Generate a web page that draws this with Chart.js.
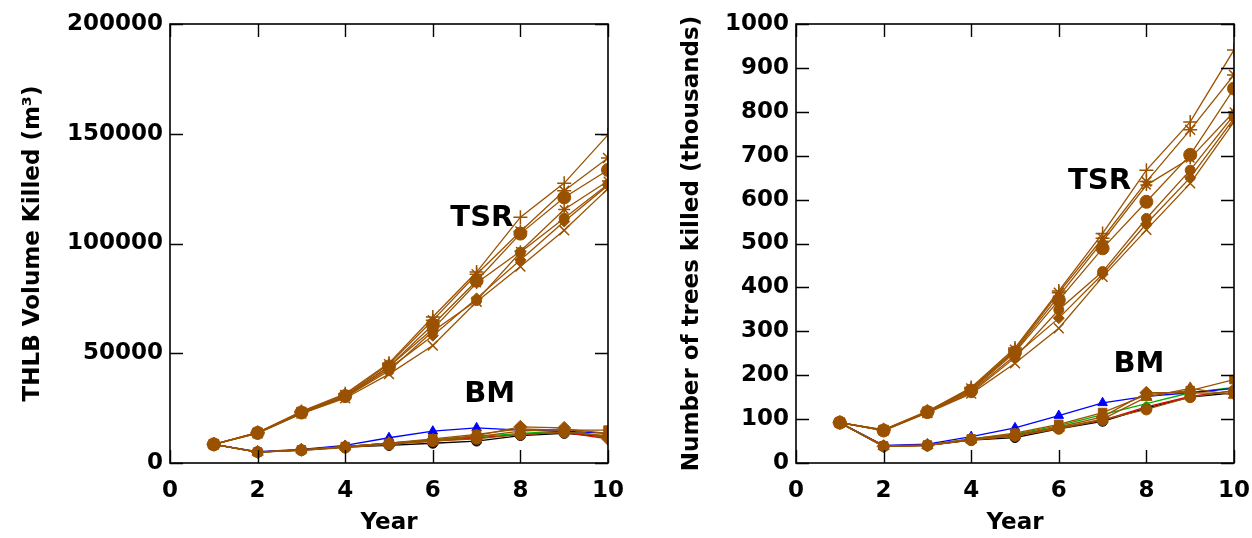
<!DOCTYPE html>
<html>
<head>
<meta charset="utf-8">
<script src="https://cdn.jsdelivr.net/npm/chart.js@4/dist/chart.umd.min.js"></script>
<style>
  body { margin: 0; background: #fff; }
  .wrap { position: absolute; top: 0; width: 626px; height: 538px; }
  #left { left: 0; }
  #right { left: 626px; }
</style>
</head>
<body>
<div class="wrap" id="left"><canvas id="volChart"></canvas></div>
<div class="wrap" id="right"><canvas id="treeChart"></canvas></div>
<script>
// years on the x axis
const years = [1, 2, 3, 4, 5, 6, 7, 8, 9, 10];
const xTicks = [0, 2, 4, 6, 8, 10];
const volTicks = [0, 50000, 100000, 150000, 200000];
const treeTicks = [0, 100, 200, 300, 400, 500, 600, 700, 800, 900, 1000];

// THLB volume killed (m3) - TSR runs
const volTsrPlus   = [8500, 13900, 23500, 31500, 45500, 66500, 87000, 112000, 127500, 149500];
const volTsrStar   = [8500, 13800, 23200, 31000, 45000, 65000, 86000, 105500, 124000, 139000];
const volTsrPent   = [8500, 13700, 23000, 30500, 44000, 63000, 83000, 104500, 121000, 133500];
const volTsrBurst  = [8500, 13800, 23000, 30500, 44000, 61000, 82000, 96500, 115500, 128500];
const volTsrDot    = [8500, 13600, 22500, 30000, 42000, 60000, 74000, 96000, 111500, 127000];
const volTsrX      = [8500, 13500, 22500, 29500, 40500, 53500, 73500, 89500, 106000, 125000];
const volTsrDiam   = [8500, 13700, 22800, 30000, 43000, 58000, 75000, 92500, 110000, 126500];
// THLB volume killed (m3) - BM runs
const volBmBlack   = [8500, 5000, 5800, 7200, 8000, 9000, 10000, 12500, 13500, 12000];
const volBmRed     = [8500, 5000, 6000, 7500, 8800, 10000, 11500, 13000, 14000, 11000];
const volBmGreen   = [8500, 5000, 6000, 7500, 9000, 10500, 12000, 13500, 14500, 12000];
const volBmBlue    = [8500, 5200, 6200, 8000, 11500, 14500, 16000, 15000, 14500, 13500];
const volBmSquare  = [8500, 5000, 6000, 7500, 9000, 11000, 13000, 15500, 15000, 15000];
const volBmDiam    = [8500, 5000, 6000, 7500, 9000, 10500, 12500, 16500, 16000, 11000];
const volBmTri     = [8500, 5000, 6000, 7500, 9000, 10000, 12000, 14500, 15500, 13500];
const volBmDot     = [8500, 5000, 5800, 7000, 8500, 10000, 11000, 13000, 14000, 12500];

// number of trees killed (thousands) - TSR runs
const treeTsrPlus  = [92, 76, 118, 172, 262, 392, 523, 667, 777, 941];
const treeTsrStar  = [92, 75, 117, 170, 258, 388, 512, 641, 759, 884];
const treeTsrPent  = [92, 74, 116, 165, 252, 371, 489, 595, 702, 853];
const treeTsrBurst = [92, 75, 117, 168, 255, 380, 505, 633, 694, 800];
const treeTsrDot   = [92, 74, 115, 160, 240, 349, 436, 557, 667, 793];
const treeTsrX     = [92, 74, 114, 158, 227, 307, 424, 531, 637, 777];
const treeTsrDiam  = [92, 75, 116, 163, 245, 330, 430, 545, 650, 785];
// number of trees killed (thousands) - BM runs
const treeBmBlack  = [92, 38, 40, 52, 58, 78, 95, 125, 150, 160];
const treeBmRed    = [92, 38, 40, 53, 62, 80, 97, 128, 152, 165];
const treeBmGreen  = [92, 39, 41, 55, 66, 85, 110, 135, 160, 172];
const treeBmBlue   = [92, 40, 43, 60, 80, 108, 137, 152, 160, 170];
const treeBmSquare = [92, 39, 41, 55, 68, 88, 115, 155, 165, 190];
const treeBmDiam   = [92, 38, 40, 54, 64, 82, 105, 160, 160, 158];
const treeBmTri    = [92, 38, 40, 53, 63, 80, 100, 150, 170, 155];
const treeBmDot    = [92, 38, 40, 52, 62, 78, 98, 122, 150, 165];

const BROWN = '#9a5200';
const FONT = '"DejaVu Sans", sans-serif';

const toXY = vals => vals.map((v, i) => ({ x: years[i], y: v }));

const ds = (vals, color, style, radius) => ({
    data: toXY(vals),
    borderColor: color,
    backgroundColor: color,
    borderWidth: 1.3,
    pointStyle: style,
    pointRadius: radius,
    pointBorderWidth: (style === 'cross' || style === 'crossRot' || style === 'star') ? 1.5 : 1,
    tension: 0
});

const buildSets = (s) => [
    ds(s.tsrPlus, BROWN, 'cross', 7),
    ds(s.tsrStar, BROWN, 'star', 7),
    ds(s.tsrPent, BROWN, 'circle', 6.5),
    ds(s.tsrBurst, BROWN, 'star', 6),
    ds(s.tsrDot, BROWN, 'circle', 5),
    ds(s.tsrX, BROWN, 'crossRot', 7),
    ds(s.tsrDiam, BROWN, 'rectRot', 5.5),
    ds(s.bmSquare, BROWN, 'rect', 6),
    ds(s.bmDiam, BROWN, 'rectRot', 6.5),
    ds(s.bmTri, BROWN, 'triangle', 6.5),
    ds(s.bmDot, BROWN, 'circle', 5.5),
    ds(s.bmBlue, '#0000ff', 'triangle', 5.5),
    ds(s.bmGreen, '#00b000', 'circle', 2),
    ds(s.bmRed, '#e00000', 'circle', 2),
    ds(s.bmBlack, '#000000', 'circle', 5)
];

// frame with inward ticks on all four sides, plus the TSR / BM labels
const framePlugin = {
    id: 'frame',
    afterDatasetsDraw(chart, args, opts) {
        const { ctx, chartArea: a, scales: { x, y } } = chart;
        ctx.save();
        ctx.strokeStyle = '#000';
        ctx.lineWidth = 1.6;
        ctx.strokeRect(a.left, a.top, a.right - a.left, a.bottom - a.top);
        ctx.lineWidth = 1.4;
        ctx.beginPath();
        opts.yTicks.forEach(v => {
            const py = Math.round(y.getPixelForValue(v)) + 0.5;
            ctx.moveTo(a.left, py); ctx.lineTo(a.left + 13, py);
            ctx.moveTo(a.right, py); ctx.lineTo(a.right - 13, py);
        });
        xTicks.forEach(v => {
            const px = Math.round(x.getPixelForValue(v)) + 0.5;
            ctx.moveTo(px, a.bottom); ctx.lineTo(px, a.bottom - 13);
            ctx.moveTo(px, a.top); ctx.lineTo(px, a.top + 13);
        });
        ctx.stroke();
        ctx.fillStyle = '#000';
        ctx.font = 'bold 29px ' + FONT;
        ctx.textAlign = 'center';
        ctx.textBaseline = 'middle';
        opts.labels.forEach(l => {
            ctx.fillText(l.text, x.getPixelForValue(l.x), y.getPixelForValue(l.y));
        });
        ctx.restore();
    }
};

const makeChart = (id, sets, yMax, yStep, yTicks, yTitle, titlePad, labels) => {
    const ctx = document.getElementById(id).getContext('2d');
    return new Chart(ctx, {
        type: 'line',
        data: { datasets: sets },
        plugins: [framePlugin],
        options: {
            responsive: true,
            maintainAspectRatio: false,
            animation: false,
            layout: { padding: { left: 0, right: 18, top: 24, bottom: 0 } },
            plugins: {
                legend: { display: false },
                tooltip: { enabled: false },
                frame: { yTicks: yTicks, labels: labels }
            },
            scales: {
                x: {
                    type: 'linear',
                    min: 0, max: 10,
                    grid: { display: false, drawTicks: false },
                    border: { display: false },
                    ticks: {
                        stepSize: 2, padding: 14, color: '#000', maxRotation: 0,
                        callback: v => String(v),
                        font: { family: FONT, size: 23, weight: 'bold' }
                    },
                    title: {
                        display: true, text: 'Year', color: '#000', padding: { top: 0, bottom: 1 },
                        font: { family: FONT, size: 23, weight: 'bold' }
                    },
                    afterFit: s => { s.height = 75; s.paddingLeft = 0; s.paddingRight = 0; }
                },
                y: {
                    min: 0, max: yMax,
                    grid: { display: false, drawTicks: false },
                    border: { display: false },
                    ticks: {
                        stepSize: yStep, padding: 7, color: '#000',
                        callback: v => String(v),
                        font: { family: FONT, size: 23, weight: 'bold' }
                    },
                    title: {
                        display: true, text: yTitle, color: '#000', padding: { top: titlePad, bottom: 0 },
                        font: { family: FONT, size: 23, weight: 'bold' }
                    },
                    afterFit: s => { s.width = 170; s.paddingTop = 0; s.paddingBottom = 0; }
                }
            }
        }
    });
};

makeChart('volChart', buildSets({
    tsrPlus: volTsrPlus, tsrStar: volTsrStar, tsrPent: volTsrPent, tsrBurst: volTsrBurst,
    tsrDot: volTsrDot, tsrX: volTsrX, tsrDiam: volTsrDiam,
    bmBlack: volBmBlack, bmRed: volBmRed, bmGreen: volBmGreen, bmBlue: volBmBlue,
    bmSquare: volBmSquare, bmDiam: volBmDiam, bmTri: volBmTri, bmDot: volBmDot
}), 200000, 50000, volTicks, 'THLB Volume Killed (m\u00B3)', 19,
    [{ text: 'TSR', x: 7.12, y: 111600 }, { text: 'BM', x: 7.3, y: 31000 }]);

makeChart('treeChart', buildSets({
    tsrPlus: treeTsrPlus, tsrStar: treeTsrStar, tsrPent: treeTsrPent, tsrBurst: treeTsrBurst,
    tsrDot: treeTsrDot, tsrX: treeTsrX, tsrDiam: treeTsrDiam,
    bmBlack: treeBmBlack, bmRed: treeBmRed, bmGreen: treeBmGreen, bmBlue: treeBmBlue,
    bmSquare: treeBmSquare, bmDiam: treeBmDiam, bmTri: treeBmTri, bmDot: treeBmDot
}), 1000, 100, treeTicks, 'Number of trees killed (thousands)', 52,
    [{ text: 'TSR', x: 6.93, y: 642 }, { text: 'BM', x: 7.83, y: 225 }]);
</script>
</body>
</html>
